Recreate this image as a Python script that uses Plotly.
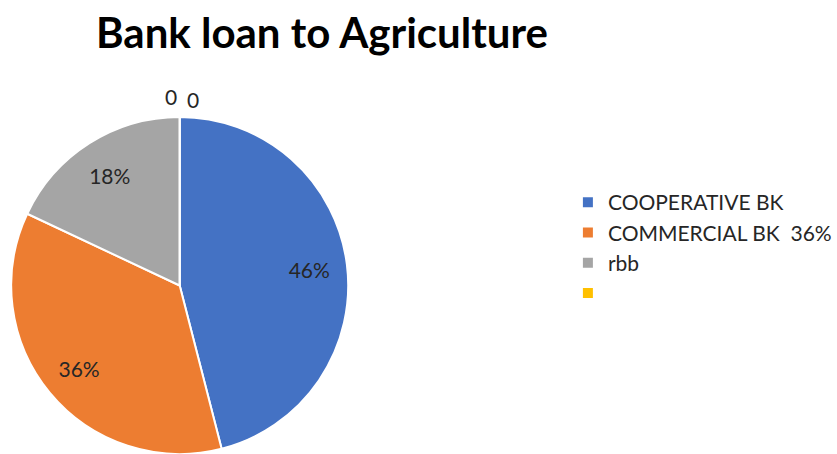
import plotly.graph_objects as go

labels = ["COOPERATIVE BK", "COMMERCIAL BK\u00a0\u00a036%", "rbb", "\u00a0"]
values = [46, 36, 18, 0]
slice_text = ["46%", "36%", "18%", ""]
colors = ["#4472C4", "#ED7D31", "#A5A5A5", "#FFC000"]
zero_labels = ["0", "0"]

W, H = 837, 454
pie_domain = dict(x=[8 / W, 354 / W], y=[0, 1 - 117 / H])

fig = go.Figure()
fig.add_trace(go.Pie(
    labels=labels,
    values=values,
    textinfo="none",
    marker=dict(colors=colors, line=dict(color="white", width=2)),
    sort=False,
    direction="clockwise",
    rotation=0,
    domain=pie_domain,
    hoverinfo="label+value",
))
# transparent ring carrying the percentage labels further out in each slice
fig.add_trace(go.Pie(
    labels=labels,
    values=values,
    text=slice_text,
    textinfo="text",
    textposition="inside",
    insidetextorientation="horizontal",
    textfont=dict(family="Lato", size=21, color="#262626"),
    marker=dict(colors=["rgba(0,0,0,0)"] * len(values), line=dict(width=0)),
    hole=0.55,
    sort=False,
    direction="clockwise",
    rotation=0,
    domain=pie_domain,
    showlegend=False,
    hoverinfo="skip",
))

for txt, (px, py) in zip(zero_labels, [(164, 82), (186, 85)]):
    fig.add_annotation(text=txt, x=px / W, y=1 - py / H, xref="paper", yref="paper",
                       showarrow=False, font=dict(family="Lato", size=21, color="#262626"))

fig.update_layout(
    width=W, height=H,
    margin=dict(l=0, r=0, t=0, b=0),
    paper_bgcolor="white",
    title=dict(text="<b>Bank loan to Agriculture</b>", x=322 / W, xanchor="center",
               y=1 - 33 / H, yanchor="middle",
               font=dict(family="Lato", size=42, color="black")),
    legend=dict(x=572 / W, y=1 - 182 / H, xanchor="left", yanchor="top",
                itemwidth=30,
                font=dict(family="Lato", size=21, color="#262626"),
                bgcolor="rgba(0,0,0,0)"),
    showlegend=True,
)

fig.write_html("out.html")
